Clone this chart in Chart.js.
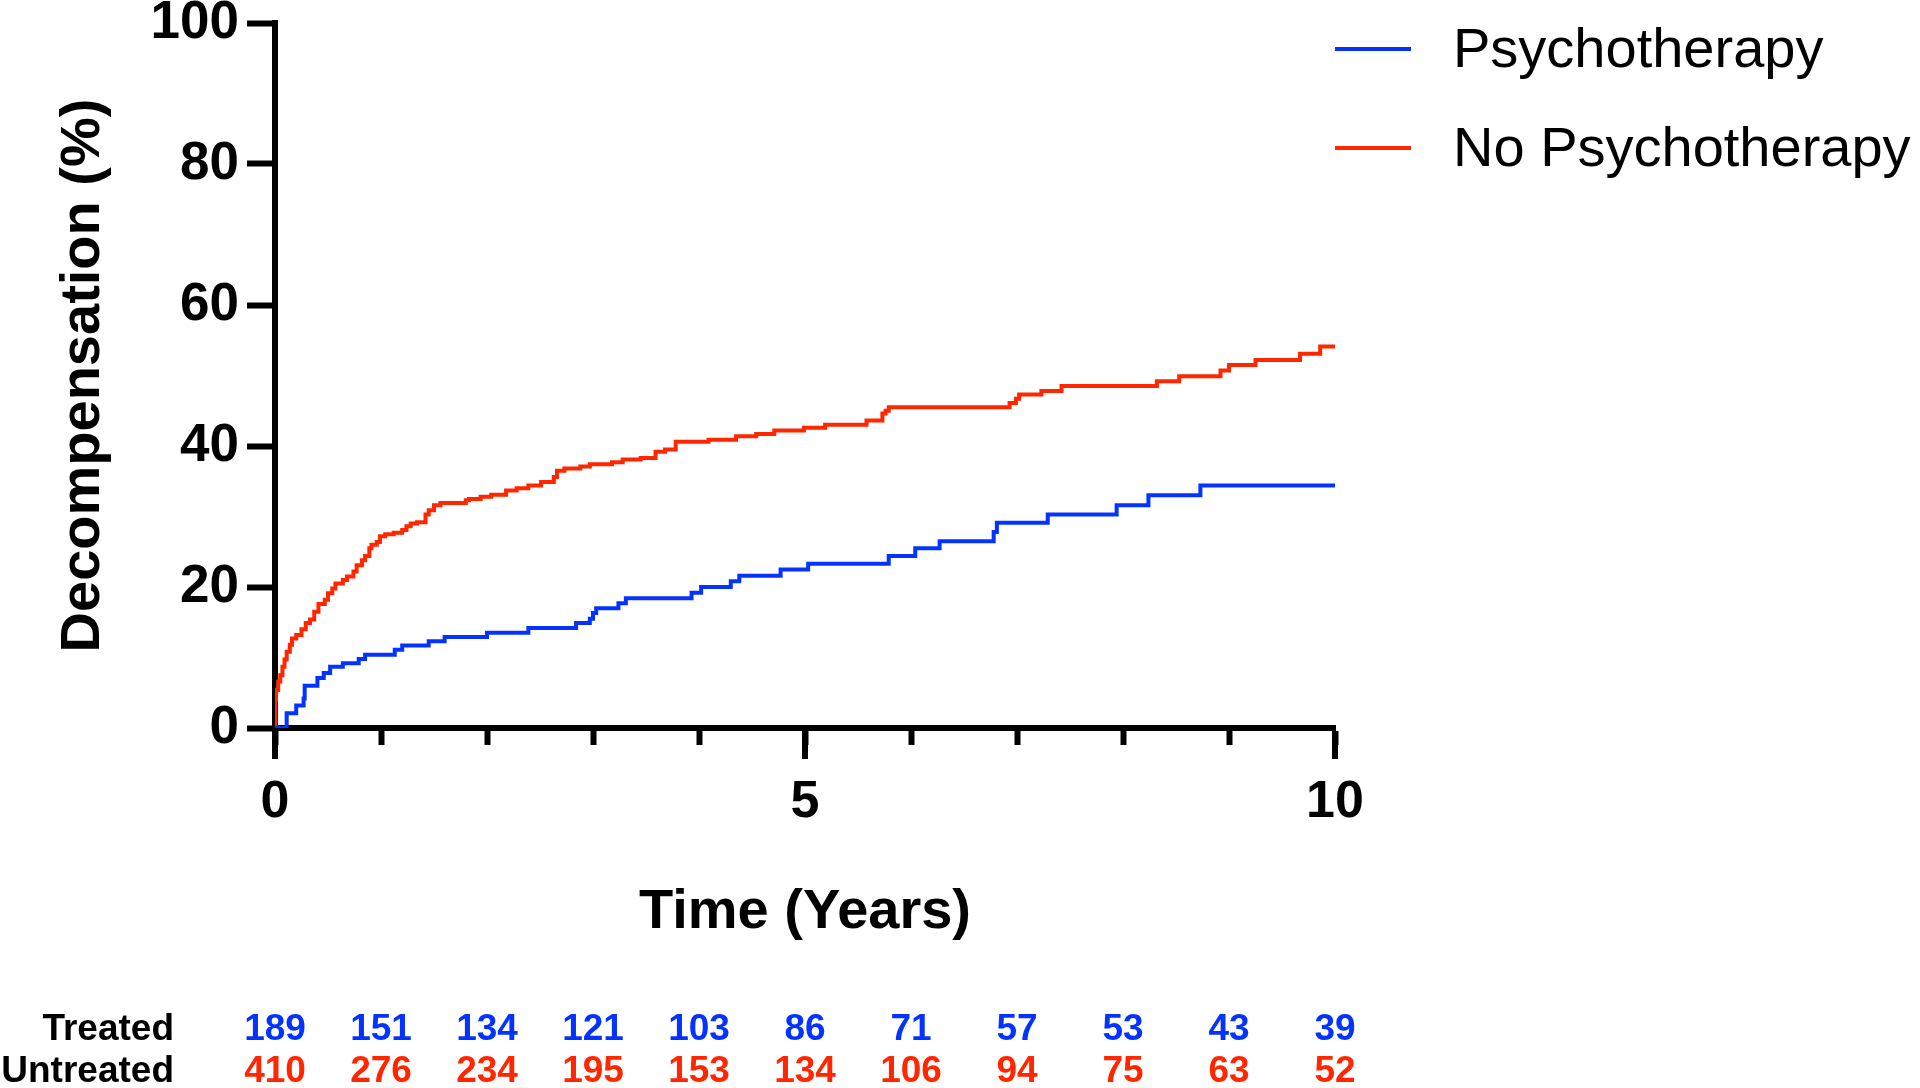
<!DOCTYPE html>
<html>
<head>
<meta charset="utf-8">
<title>Decompensation over time</title>
<script src="https://cdn.jsdelivr.net/npm/chart.js@4.4.1/dist/chart.umd.min.js"></script>
<style>
  html, body { margin: 0; padding: 0; background: #fff; }
  #wrap { width: 1920px; height: 1088px; position: relative; }
</style>
</head>
<body>
<div id="wrap"><canvas id="kmChart"></canvas></div>
<script>
// Cumulative decompensation (%), step points (year, value after the step)
const treatedYears = [0, 0.11, 0.2, 0.27, 0.28, 0.4, 0.46, 0.52, 0.64, 0.79, 0.85, 1.13, 1.2, 1.45, 1.6,
    2.0, 2.39, 2.84, 2.97, 3.0, 3.03, 3.24, 3.31, 3.93, 4.02, 4.3, 4.38, 4.77, 5.03, 5.79,
    6.04, 6.27, 6.78, 6.81, 7.29, 7.94, 8.24, 8.73, 10];
const treatedPct = [0, 2.1, 3.2, 4.2, 6.0, 7.1, 7.8, 8.7, 9.2, 9.8, 10.4, 11.1, 11.7, 12.3, 12.9,
    13.5, 14.2, 14.9, 15.5, 16.3, 17.0, 17.7, 18.4, 19.2, 20.0, 20.8, 21.6, 22.5, 23.3, 24.4,
    25.5, 26.5, 27.8, 29.1, 30.3, 31.6, 33.0, 34.4, 34.4];

const untreatedYears = [0, 0.005, 0.01, 0.03, 0.05, 0.07, 0.09, 0.11, 0.14, 0.16, 0.2, 0.25, 0.29, 0.33, 0.37,
    0.41, 0.47, 0.5, 0.54, 0.57, 0.64, 0.68, 0.74, 0.77, 0.82, 0.85, 0.89, 0.91, 0.96, 0.99,
    1.04, 1.12, 1.2, 1.24, 1.28, 1.34, 1.42, 1.45, 1.5, 1.56, 1.8, 1.83, 1.94, 2.04, 2.18,
    2.28, 2.39, 2.51, 2.63, 2.66, 2.73, 2.88, 2.97, 3.18, 3.28, 3.45, 3.59, 3.68, 3.78, 4.09,
    4.35, 4.54, 4.71, 4.99, 5.19, 5.58, 5.73, 5.76, 5.79, 6.93, 6.99, 7.02, 7.23, 7.42, 8.32,
    8.53, 8.92, 9.0, 9.25, 9.67, 9.86, 10];
const untreatedPct = [0, 4.0, 5.4, 6.6, 7.5, 8.7, 9.7, 10.8, 11.8, 12.7, 13.2, 14.0, 14.9, 15.4, 16.5,
    17.6, 18.2, 19.1, 19.8, 20.5, 21.0, 21.5, 22.2, 23.1, 23.8, 24.4, 25.5, 26.0, 26.4, 27.2,
    27.5, 27.7, 28.1, 28.6, 29.0, 29.2, 30.3, 30.9, 31.6, 31.9, 32.3, 32.5, 32.8, 33.1, 33.7,
    34.0, 34.4, 34.9, 35.6, 36.5, 36.8, 37.1, 37.4, 37.7, 38.1, 38.3, 39.2, 39.5, 40.6, 40.9,
    41.4, 41.7, 42.2, 42.6, 43.0, 43.6, 44.6, 45.0, 45.5, 46.1, 46.7, 47.3, 47.8, 48.5, 49.2,
    49.9, 50.7, 51.5, 52.2, 53.1, 54.1, 54.1];

// Numbers at risk under the x axis
const riskYears = [0, 1, 2, 3, 4, 5, 6, 7, 8, 9, 10];
const treatedAtRisk = [189, 151, 134, 121, 103, 86, 71, 57, 53, 43, 39];
const untreatedAtRisk = [410, 276, 234, 195, 153, 134, 106, 94, 75, 63, 52];
const riskRowNames = ["Treated", "Untreated"];

const seriesNames = ["Psychotherapy", "No Psychotherapy"];
const majorYears = [0, 5, 10];

const BLUE = "#0433ff";
const RED = "#ff2600";
const FONT = "'Liberation Sans', Arial, Helvetica, sans-serif";

function toPoints(xs, ys) {
    return xs.map((x, i) => ({ x: x, y: ys[i] }));
}

// long ticks at 0/5/10, legend and the at-risk table
const extrasPlugin = {
    id: 'extras',
    beforeDatasetsDraw(chart) {
        const ctx = chart.ctx;
        const xs = chart.scales.x;
        const y0 = chart.chartArea.bottom;
        ctx.save();
        ctx.strokeStyle = '#000';
        ctx.lineWidth = 6;
        majorYears.forEach(v => {
            const px = xs.getPixelForValue(v);
            ctx.beginPath();
            ctx.moveTo(px, y0 + 3);
            ctx.lineTo(px, y0 + 31);
            ctx.stroke();
        });
        ctx.restore();
    },
    afterDraw(chart) {
        const ctx = chart.ctx;
        const xs = chart.scales.x;
        const colors = [BLUE, RED];
        ctx.save();

        // legend
        const lineStart = chart.chartArea.right;
        const legendY = [49, 148];
        ctx.lineWidth = 4;
        ctx.font = "56px " + FONT;
        ctx.textAlign = 'left';
        ctx.textBaseline = 'middle';
        seriesNames.forEach((name, i) => {
            ctx.strokeStyle = colors[i];
            ctx.beginPath();
            ctx.moveTo(lineStart, legendY[i]);
            ctx.lineTo(lineStart + 76, legendY[i]);
            ctx.stroke();
            ctx.fillStyle = '#000';
            ctx.fillText(name, lineStart + 118, legendY[i] + 3);
        });

        // at-risk rows
        const rowY = [1040, 1082];
        const rows = [treatedAtRisk, untreatedAtRisk];
        ctx.font = "bold 37px " + FONT;
        ctx.textBaseline = 'alphabetic';
        rows.forEach((row, r) => {
            ctx.fillStyle = '#000';
            ctx.textAlign = 'right';
            ctx.fillText(riskRowNames[r], 174, rowY[r]);
            ctx.fillStyle = colors[r];
            ctx.textAlign = 'center';
            row.forEach((n, i) => {
                ctx.fillText(String(n), xs.getPixelForValue(riskYears[i]), rowY[r]);
            });
        });
        ctx.restore();
    }
};

window.onload = () => {
    let ctx = document.getElementById('kmChart').getContext('2d');
    new Chart(ctx, {
        type: 'line',
        data: {
            datasets: [
                {
                    label: seriesNames[0],
                    data: toPoints(treatedYears, treatedPct),
                    borderColor: BLUE,
                    borderWidth: 4,
                    stepped: 'before',
                    pointRadius: 0,
                    fill: false
                },
                {
                    label: seriesNames[1],
                    data: toPoints(untreatedYears, untreatedPct),
                    borderColor: RED,
                    borderWidth: 4,
                    stepped: 'before',
                    pointRadius: 0,
                    fill: false
                }
            ]
        },
        options: {
            responsive: true,
            maintainAspectRatio: false,
            animation: false,
            layout: { padding: { left: 0, right: 585, top: 23, bottom: 0 } },
            plugins: {
                legend: { display: false },
                tooltip: { enabled: false }
            },
            scales: {
                x: {
                    type: 'linear',
                    min: 0,
                    max: 10,
                    border: { display: true, color: '#000', width: 6 },
                    grid: { drawOnChartArea: false, drawTicks: true, tickLength: 17, tickWidth: 6, tickColor: '#000' },
                    ticks: {
                        stepSize: 1,
                        autoSkip: false,
                        maxRotation: 0,
                        padding: 26,
                        color: '#000',
                        font: { family: FONT, size: 52, weight: 'bold' },
                        callback: v => (v % 5 === 0 ? String(v) : '')
                    },
                    title: {
                        display: true,
                        text: 'Time (Years)',
                        color: '#000',
                        font: { family: FONT, size: 56, weight: 'bold' },
                        padding: { top: 0, bottom: 142 }
                    },
                    afterFit: s => { s.height = 360; s.paddingLeft = 0; s.paddingRight = 0; }
                },
                y: {
                    min: 0,
                    max: 100,
                    border: { display: true, color: '#000', width: 6 },
                    grid: { drawOnChartArea: false, drawTicks: true, tickLength: 28, tickWidth: 6, tickColor: '#000' },
                    ticks: {
                        stepSize: 20,
                        padding: 8,
                        color: '#000',
                        font: { family: FONT, size: 53, weight: 'bold' }
                    },
                    title: {
                        display: true,
                        text: 'Decompensation (%)',
                        color: '#000',
                        font: { family: FONT, size: 56, weight: 'bold' },
                        padding: { top: 50, bottom: 0 }
                    },
                    afterFit: s => { s.width = 275; s.paddingTop = 0; s.paddingBottom = 0; }
                }
            }
        },
        plugins: [extrasPlugin]
    });
};
</script>
</body>
</html>
